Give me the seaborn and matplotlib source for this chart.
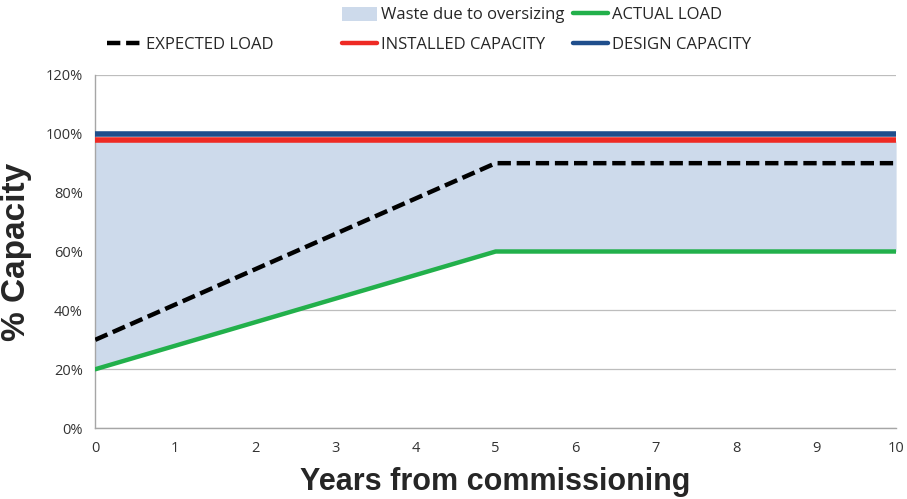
import seaborn as sns
import matplotlib.pyplot as plt
from matplotlib.lines import Line2D
from matplotlib.patches import Patch
from matplotlib.ticker import FuncFormatter

# data
years = [0, 5, 10]
expected_load = [30, 90, 90]
actual_load = [20, 60, 60]
installed_capacity = [98, 98, 98]
design_capacity = [100, 100, 100]
y_ticks = [0, 20, 40, 60, 80, 100, 120]
x_ticks = list(range(0, 11))

sns.set_style('white')
plt.rcParams['font.family'] = ['Open Sans', 'DejaVu Sans']

W, H = 907, 499
fig = plt.figure(figsize=(W / 100, H / 100), dpi=100)
ax = fig.add_axes([0.105, 0.142, 0.883, 0.708])

dash = (0, (3, 1.3))

# waste area between actual load and installed capacity
ax.fill_between(years, actual_load, [97.5, 97.5, 97.5], color='#cddaeb', linewidth=0, zorder=1)

sns.lineplot(x=years, y=design_capacity, color='#1f4e8c', linewidth=4, ax=ax, zorder=3)
sns.lineplot(x=years, y=installed_capacity, color='#ee2a24', linewidth=4, ax=ax, zorder=3)
sns.lineplot(x=years, y=actual_load, color='#22b04b', linewidth=3.2, ax=ax, zorder=4)
sns.lineplot(x=years, y=expected_load, color='black', linewidth=3.2, ax=ax, zorder=4,
             linestyle=dash)

ax.set_xlim(0, 10)
ax.set_ylim(0, 120)
ax.set_yticks(y_ticks)
ax.set_xticks(x_ticks)
ax.yaxis.set_major_formatter(FuncFormatter(lambda v, p: f'{int(v)}%'))
ax.grid(axis='y', color='#bdbdbd', linewidth=0.9, zorder=0)
ax.set_axisbelow(True)
for s in ['top', 'right']:
    ax.spines[s].set_visible(False)
for s in ['left', 'bottom']:
    ax.spines[s].set_color('#a6a6a6')
    ax.spines[s].set_linewidth(1)
ax.tick_params(axis='both', direction='out', length=5, color='#a6a6a6', width=1,
               labelsize=10.5, labelcolor='#333333', pad=4)

ax.set_xlabel('Years from commissioning', fontsize=22, fontweight='bold',
              family='Liberation Sans', labelpad=8)
ax.set_ylabel('% Capacity', fontsize=24, fontweight='bold', family='Liberation Sans',
              labelpad=10)

# legend entries placed like the original (Excel) layout
entries = [
    (Patch(facecolor='#cddaeb', edgecolor='none'), 'Waste due to oversizing', 342, 15),
    (Line2D([], [], color='#22b04b', linewidth=3.2), 'ACTUAL LOAD', 573, 15),
    (Line2D([], [], color='black', linewidth=3.2, linestyle=dash), 'EXPECTED LOAD', 107, 45),
    (Line2D([], [], color='#ee2a24', linewidth=3.2), 'INSTALLED CAPACITY', 342, 45),
    (Line2D([], [], color='#1f4e8c', linewidth=3.2), 'DESIGN CAPACITY', 573, 45),
]
for h, lab, px, py in entries:
    leg = fig.legend([h], [lab], loc='center left', bbox_to_anchor=(px / W, 1 - py / H),
                     frameon=False, fontsize=12, handlelength=2.1, handletextpad=0.25,
                     borderpad=0, borderaxespad=0, handleheight=0.9)

fig.savefig('out.png', dpi=100)
